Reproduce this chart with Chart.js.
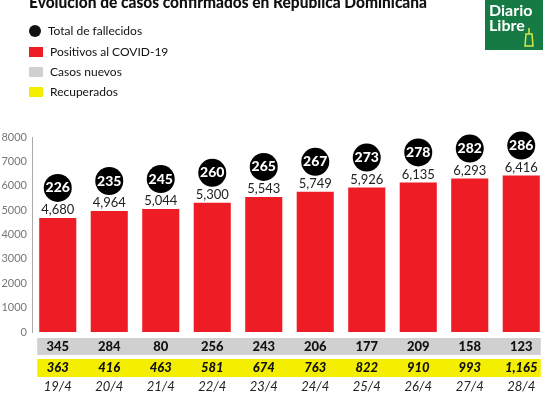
<!DOCTYPE html>
<html>
<head>
<meta charset="utf-8">
<script src="https://cdn.jsdelivr.net/npm/chart.js@4"></script>
<style>
  html, body { margin: 0; padding: 0; background: #fff; }
  #wrap { width: 550px; height: 393px; position: relative; }
</style>
</head>
<body>
<div id="wrap"><canvas id="chart" width="550" height="393"></canvas></div>
<script>
const dates = ['19/4', '20/4', '21/4', '22/4', '23/4', '24/4', '25/4', '26/4', '27/4', '28/4'];
const positivos = [4680, 4964, 5044, 5300, 5543, 5749, 5926, 6135, 6293, 6416];
const fallecidos = [226, 235, 245, 260, 265, 267, 273, 278, 282, 286];
const casosNuevos = [345, 284, 80, 256, 243, 206, 177, 209, 158, 123];
const recuperados = [363, 416, 463, 581, 674, 763, 822, 910, 993, 1165];
const legendItems = ['Total de fallecidos', 'Positivos al COVID-19', 'Casos nuevos', 'Recuperados'];

const RED = '#ee1c24';
const GRAY = '#d0d0d0';
const YELLOW = '#f4ef00';
const FONT = 'Lato, "Open Sans", sans-serif';

const fmt = (n) => n.toLocaleString('en-US');

// header: title, legend and logo
const headerPlugin = {
  id: 'header',
  afterDraw(chart) {
    const ctx = chart.ctx;
    ctx.save();
    ctx.fillStyle = '#111';
    ctx.font = `900 16px ${FONT}`;
    ctx.textBaseline = 'alphabetic';
    ctx.textAlign = 'left';
    ctx.fillText('Evolución de casos confirmados en República Dominicana', 29, 8, 398);

    ctx.font = `12px ${FONT}`;
    ctx.textBaseline = 'middle';
    ctx.fillStyle = '#111';
    ctx.beginPath();
    ctx.arc(35, 31, 6, 0, Math.PI * 2);
    ctx.fill();
    ctx.fillText(legendItems[0], 48, 31);
    const swatches = [RED, GRAY, YELLOW];
    swatches.forEach((color, i) => {
      const y = 52 + i * 20;
      ctx.fillStyle = color;
      ctx.fillRect(29, y - 5, 14, 10);
      ctx.fillStyle = '#111';
      ctx.fillText(legendItems[i + 1], 50, y);
    });

    // logo
    ctx.fillStyle = '#157a43';
    ctx.fillRect(485, 0, 58, 50);
    ctx.fillStyle = '#fff';
    ctx.font = `bold 16px ${FONT}`;
    ctx.textBaseline = 'alphabetic';
    ctx.fillText('Diario', 489, 16, 46);
    ctx.fillText('Libre', 489, 31, 36);
    ctx.strokeStyle = '#d4e84a';
    ctx.lineWidth = 1.5;
    ctx.beginPath();
    ctx.moveTo(529, 28); ctx.lineTo(529, 34);
    ctx.moveTo(526, 34); ctx.lineTo(532, 34);
    ctx.lineTo(533, 46); ctx.lineTo(525, 46); ctx.closePath();
    ctx.stroke();
    ctx.restore();
  }
};

// labels on bars, death bubbles, table rows
const rowsPlugin = {
  id: 'rows',
  afterDatasetsDraw(chart) {
    const ctx = chart.ctx;
    const meta = chart.getDatasetMeta(0);
    const xs = chart.scales.x;
    ctx.save();
    ctx.textAlign = 'center';
    ctx.textBaseline = 'middle';

    meta.data.forEach((bar, i) => {
      ctx.fillStyle = '#222';
      ctx.font = `13px ${FONT}`;
      ctx.fillText(fmt(positivos[i]), bar.x, bar.y - 8);
      ctx.fillStyle = '#000';
      ctx.beginPath();
      ctx.arc(bar.x, bar.y - 30, 14, 0, Math.PI * 2);
      ctx.fill();
      ctx.fillStyle = '#fff';
      ctx.font = `900 14px ${FONT}`;
      ctx.fillText(String(fallecidos[i]), bar.x, bar.y - 30);
    });

    const first = meta.data[0];
    const last = meta.data[meta.data.length - 1];
    const left = first.x - first.width / 2 - 2;
    const right = last.x + last.width / 2 + 1;
    ctx.fillStyle = GRAY;
    ctx.fillRect(left, 338, right - left, 17);
    ctx.fillStyle = YELLOW;
    ctx.fillRect(left, 359, right - left, 18);

    dates.forEach((d, i) => {
      const x = xs.getPixelForValue(i);
      ctx.fillStyle = '#111';
      ctx.font = `900 13px ${FONT}`;
      ctx.fillText(fmt(casosNuevos[i]), x, 347);
      ctx.font = `italic 900 13px ${FONT}`;
      ctx.fillText(fmt(recuperados[i]), x, 368);
      ctx.fillStyle = '#222';
      ctx.font = `italic 13px ${FONT}`;
      ctx.fillText(d, x, 387);
    });
    ctx.restore();
  }
};

new Chart(document.getElementById('chart'), {
  type: 'bar',
  data: {
    labels: dates,
    datasets: [{
      label: legendItems[1],
      data: positivos,
      backgroundColor: RED,
      borderWidth: 0,
      barPercentage: 0.72,
      categoryPercentage: 1
    }]
  },
  options: {
    responsive: false,
    animation: false,
    events: [],
    layout: { padding: { top: 137, bottom: 61, left: 0, right: 3 } },
    plugins: {
      legend: { display: false },
      tooltip: { enabled: false }
    },
    scales: {
      x: { display: false },
      y: {
        min: 0,
        max: 8000,
        afterFit(scale) { scale.width = 32; },
        grid: { display: false, drawTicks: false },
        border: { display: true, color: '#aaa', width: 1 },
        ticks: {
          stepSize: 1000,
          padding: 5,
          color: '#777',
          font: { family: 'Lato', size: 11 },
          callback: (value) => String(value)
        }
      }
    }
  },
  plugins: [headerPlugin, rowsPlugin]
});
</script>
</body>
</html>
